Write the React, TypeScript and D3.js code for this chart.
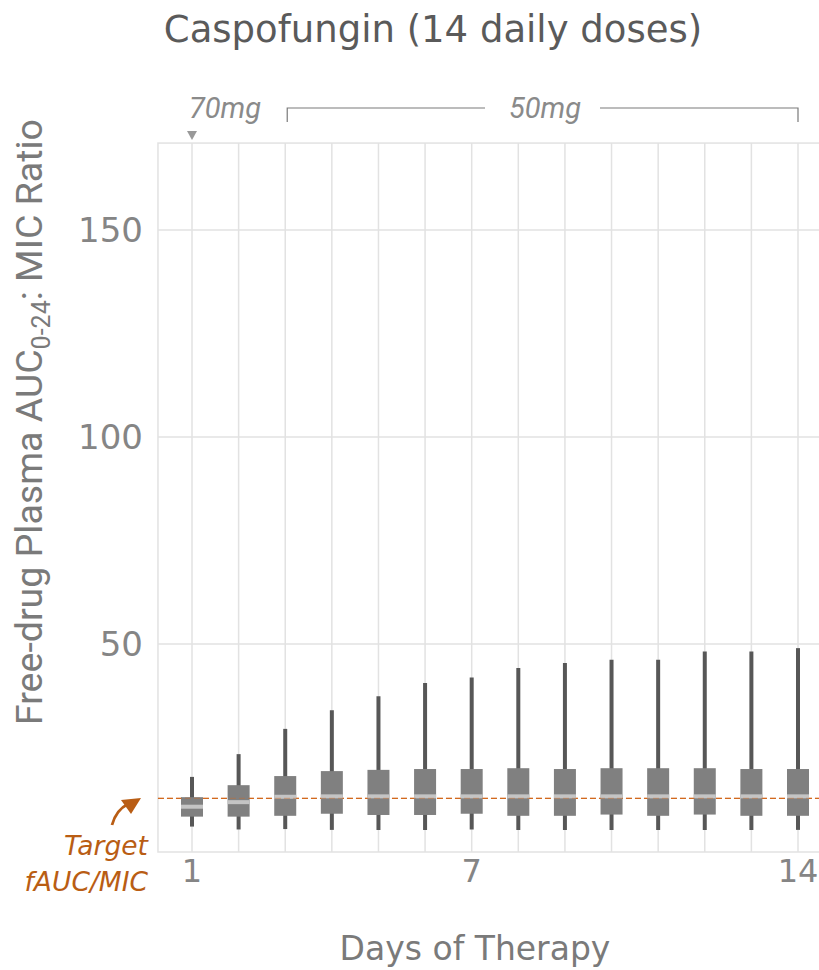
import * as d3 from 'd3';
import { useEffect, useRef } from 'react';

const days = [1, 2, 3, 4, 5, 6, 7, 8, 9, 10, 11, 12, 13, 14];
const whiskerHigh = [17.9, 23.4, 29.5, 34.0, 37.4, 40.6, 41.9, 44.2, 45.4, 46.2, 46.2, 48.2, 48.2, 49.0];
const q3 = [13.0, 15.9, 18.1, 19.3, 19.6, 19.8, 19.8, 20.0, 19.8, 20.0, 20.0, 20.0, 19.8, 19.8];
const median = [10.7, 11.8, 13.1, 13.2, 13.2, 13.2, 13.2, 13.2, 13.2, 13.2, 13.2, 13.2, 13.2, 13.2];
const q1 = [8.3, 8.3, 8.5, 9.0, 8.7, 8.7, 9.0, 8.5, 8.5, 8.8, 8.5, 8.8, 8.5, 8.5];
const whiskerLow = [5.9, 5.2, 5.3, 5.1, 5.1, 5.1, 5.2, 5.1, 5.1, 5.1, 5.1, 5.1, 5.1, 5.1];
const yTicks = [50, 100, 150];
const xTickLabels = [1, 7, 14];
const targetRatio = 12.7;

export default function App() {
  const svgRef = useRef<SVGSVGElement>(null);

  useEffect(() => {
    if (!svgRef.current) return;
    const width = 819;
    const height = 970;
    const svg = d3.select(svgRef.current).attr('width', width).attr('height', height);
    svg.selectAll('*').remove();

    const x = d3.scaleLinear().domain([1, 14]).range([192, 798]);
    const y = d3.scaleLinear().domain([0, 50]).range([851, 644]);

    const panelLeft = x(0.27);
    const panelTop = y(171);
    const panelBottom = y(0) + 1;
    const orange = '#b95d14';

    // panel + grid
    svg.append('rect')
      .attr('x', panelLeft).attr('y', panelTop)
      .attr('width', width + 10 - panelLeft).attr('height', panelBottom - panelTop)
      .attr('fill', 'none').attr('stroke', '#e2e2e2').attr('stroke-width', 1.5);

    svg.selectAll('line.hgrid')
      .data(yTicks)
      .enter()
      .append('line')
      .attr('class', 'hgrid')
      .attr('x1', panelLeft).attr('x2', width)
      .attr('y1', (d) => y(d)).attr('y2', (d) => y(d))
      .attr('stroke', '#e2e2e2').attr('stroke-width', 1.5);

    svg.selectAll('line.vgrid')
      .data(days)
      .enter()
      .append('line')
      .attr('class', 'vgrid')
      .attr('x1', (d) => x(d)).attr('x2', (d) => x(d))
      .attr('y1', panelTop).attr('y2', panelBottom)
      .attr('stroke', '#e2e2e2').attr('stroke-width', 1.5);

    // target line
    svg.append('line')
      .attr('x1', panelLeft).attr('x2', width)
      .attr('y1', y(targetRatio)).attr('y2', y(targetRatio))
      .attr('stroke', '#d2691e').attr('stroke-width', 1.3)
      .attr('stroke-dasharray', '6,3');

    // boxes
    const boxW = 22;
    const g = svg.selectAll('g.box')
      .data(days)
      .enter()
      .append('g')
      .attr('class', 'box');

    g.append('line')
      .attr('x1', (d) => x(d)).attr('x2', (d) => x(d))
      .attr('y1', (_, i) => y(whiskerHigh[i])).attr('y2', (_, i) => y(whiskerLow[i]))
      .attr('stroke', '#575757').attr('stroke-width', 4);

    g.append('rect')
      .attr('x', (d) => x(d) - boxW / 2)
      .attr('y', (_, i) => y(q3[i]))
      .attr('width', boxW)
      .attr('height', (_, i) => y(q1[i]) - y(q3[i]))
      .attr('fill', '#808080');

    g.append('rect')
      .attr('x', (d) => x(d) - boxW / 2)
      .attr('y', (_, i) => y(median[i]) - 2)
      .attr('width', boxW)
      .attr('height', 4)
      .attr('fill', '#c4c4c4');

    // dashes faintly visible over the boxes
    svg.append('line')
      .attr('x1', panelLeft).attr('x2', width)
      .attr('y1', y(targetRatio)).attr('y2', y(targetRatio))
      .attr('stroke', '#d2691e').attr('stroke-width', 1.3).attr('opacity', 0.35)
      .attr('stroke-dasharray', '6,3');

    // y tick labels
    svg.selectAll('text.ytick')
      .data(yTicks)
      .enter()
      .append('text')
      .attr('class', 'ytick')
      .attr('x', 143).attr('y', (d) => y(d))
      .attr('dy', '0.36em')
      .attr('text-anchor', 'end')
      .attr('font-family', 'DejaVu Sans').attr('font-size', 34)
      .attr('fill', '#858585')
      .text((d) => d);

    // x tick labels
    svg.selectAll('text.xtick')
      .data(xTickLabels)
      .enter()
      .append('text')
      .attr('class', 'xtick')
      .attr('x', (d) => x(d)).attr('y', 882)
      .attr('text-anchor', 'middle')
      .attr('font-family', 'DejaVu Sans').attr('font-size', 32)
      .attr('fill', '#858585')
      .text((d) => d);

    // title
    svg.append('text')
      .attr('x', 433).attr('y', 42)
      .attr('text-anchor', 'middle')
      .attr('font-family', 'DejaVu Sans').attr('font-size', 37)
      .attr('fill', '#5a5a5a')
      .text('Caspofungin (14 daily doses)');

    // x axis title
    svg.append('text')
      .attr('x', 475).attr('y', 960)
      .attr('text-anchor', 'middle')
      .attr('font-family', 'DejaVu Sans').attr('font-size', 33)
      .attr('fill', '#7a7a7a')
      .text('Days of Therapy');

    // y axis title
    const yl = svg.append('text')
      .attr('transform', 'translate(42,422) rotate(-90)')
      .attr('text-anchor', 'middle')
      .attr('font-family', 'Roboto').attr('font-size', 37.5)
      .attr('fill', '#7a7a7a');
    yl.append('tspan').text('Free-drug Plasma AUC');
    yl.append('tspan').attr('font-size', 25).attr('dy', 8).text('0-24');
    yl.append('tspan').attr('dy', -8).text(': MIC Ratio');

    // dose annotations
    svg.append('text')
      .attr('x', 189).attr('y', 118)
      .attr('font-family', 'Roboto').attr('font-style', 'italic').attr('font-size', 29)
      .attr('fill', '#8a8a8a')
      .text('70mg');
    svg.append('path')
      .attr('d', `M${x(1) - 5},131 L${x(1) + 5},131 L${x(1)},140 Z`)
      .attr('fill', '#999');

    svg.append('text')
      .attr('x', 545).attr('y', 118)
      .attr('text-anchor', 'middle')
      .attr('font-family', 'Roboto').attr('font-style', 'italic').attr('font-size', 29)
      .attr('fill', '#8a8a8a')
      .text('50mg');
    svg.append('path')
      .attr('d', `M${x(3) + 2},122 V108 H485 M600,108 H${x(14)} V122`)
      .attr('fill', 'none').attr('stroke', '#7a7a7a').attr('stroke-width', 1.2);

    // target annotation
    svg.append('text')
      .attr('x', 148).attr('y', 855)
      .attr('text-anchor', 'end')
      .attr('font-family', 'DejaVu Sans').attr('font-style', 'italic').attr('font-size', 26.5)
      .attr('fill', orange)
      .text('Target');
    svg.append('text')
      .attr('x', 148).attr('y', 891)
      .attr('text-anchor', 'end')
      .attr('font-family', 'DejaVu Sans').attr('font-style', 'italic').attr('font-size', 26.5)
      .attr('fill', orange)
      .text('fAUC/MIC');

    svg.append('path')
      .attr('d', 'M112,825 Q116,810 128,804')
      .attr('fill', 'none').attr('stroke', orange).attr('stroke-width', 2.8);
    svg.append('path')
      .attr('d', 'M141,798 L121,800 L131,814 Z')
      .attr('fill', orange);
  }, []);

  return <svg ref={svgRef} style={{ position: 'absolute', left: 0, top: 0 }} />;
}
